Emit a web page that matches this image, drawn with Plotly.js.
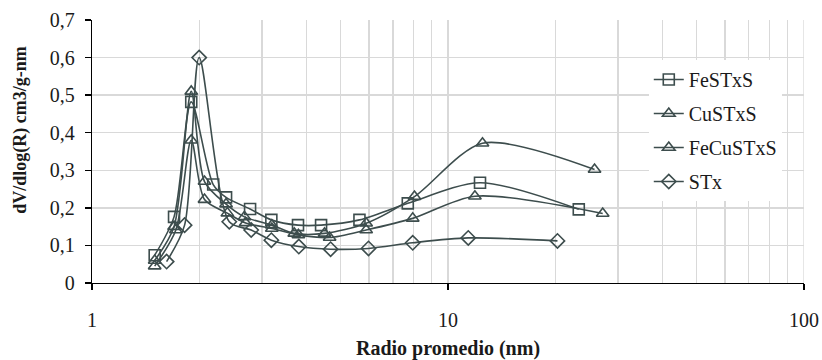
<!DOCTYPE html>
<html><head><meta charset="utf-8">
<script src="https://cdn.plot.ly/plotly-3.0.1.min.js"></script>
<style>html,body{margin:0;padding:0;background:#fff}#chart{width:822px;height:360px}</style>
</head><body><div id="chart"></div>
<script>
const seriesNames = ['FeSTxS', 'CuSTxS', 'FeCuSTxS', 'STx'];

const feSTxS_x = [1.5, 1.7, 1.9, 2.19, 2.38, 2.78, 3.19, 3.79, 4.40, 5.64, 7.71, 12.3, 23.3];
const feSTxS_y = [0.074, 0.176, 0.482, 0.262, 0.228, 0.197, 0.168, 0.154, 0.154, 0.168, 0.212, 0.267, 0.196];

const cuSTxS_x = [1.5, 1.7, 1.9, 2.07, 2.38, 2.68, 3.2, 3.7, 4.5, 5.89, 8.05, 12.5, 25.8];
const cuSTxS_y = [0.06, 0.15, 0.51, 0.27, 0.21, 0.176, 0.154, 0.132, 0.132, 0.159, 0.23, 0.372, 0.302];

const feCuSTxS_x = [1.5, 1.72, 1.9, 2.07, 2.4, 2.7, 3.2, 3.8, 4.65, 5.89, 7.96, 11.9, 27.2];
const feCuSTxS_y = [0.045, 0.141, 0.38, 0.222, 0.186, 0.16, 0.145, 0.128, 0.121, 0.141, 0.172, 0.231, 0.185];

const sTx_x = [1.62, 1.82, 2.0, 2.43, 2.8, 3.19, 3.81, 4.68, 5.98, 7.96, 11.4, 20.3];
const sTx_y = [0.057, 0.154, 0.60, 0.163, 0.141, 0.114, 0.097, 0.090, 0.092, 0.107, 0.120, 0.112];

const yTickVals = [0, 0.1, 0.2, 0.3, 0.4, 0.5, 0.6, 0.7];
const yTickText = ['0', '0,1', '0,2', '0,3', '0,4', '0,5', '0,6', '0,7'];
const xTickVals = [1, 10, 100];
const xTickText = ['1', '10', '100'];
const xTitle = 'Radio promedio (nm)';
const yTitle = 'dV/dlog(R) cm3/g-nm';

const col = '#3d4d4d';
const symbols = ['square-open', 'triangle-up-open', 'triangle-up-open', 'diamond-open'];
const xs = [feSTxS_x, cuSTxS_x, feCuSTxS_x, sTx_x];
const ys = [feSTxS_y, cuSTxS_y, feCuSTxS_y, sTx_y];

const traces = seriesNames.map((n, i) => ({
  type: 'scatter', mode: 'lines+markers', name: n,
  x: xs[i], y: ys[i], legendgroup: 'g' + i,
  line: {color: col, width: 1.6, shape: 'spline', smoothing: 0.8},
  marker: {symbol: symbols[i], size: 11, color: col, line: {color: col, width: 1.6}},
  cliponaxis: false
}));

const font = '"Liberation Serif", "Times New Roman", Times, serif';
const tcol = '#1a1a1a';
const layout = {
  width: 822, height: 360,
  margin: {l: 92, r: 18, t: 20, b: 77},
  paper_bgcolor: '#fff', plot_bgcolor: '#fff',
  font: {family: font, size: 20, color: tcol},
  showlegend: true,
  legend: {x: 0.782, y: 0.848, xanchor: 'left', yanchor: 'top', bgcolor: '#fff',
           font: {family: font, size: 20, color: tcol}, tracegroupgap: 5, traceorder: 'grouped'},
  xaxis: {
    type: 'log', range: [0, 2], tickmode: 'array', tickvals: xTickVals, ticktext: xTickText,
    showgrid: false, zeroline: false, showline: true, linecolor: '#000', linewidth: 1.3,
    ticks: 'outside', ticklen: 6, tickcolor: '#000', tickwidth: 1.3, ticklabelstandoff: 13,
    minor: {dtick: 'D1', showgrid: true, gridcolor: '#d9d9d9', gridwidth: 1.3, ticks: ''},
    tickfont: {family: font, size: 20, color: tcol},
    title: {text: '<b>' + xTitle + '</b>', font: {family: font, size: 20, color: tcol}, standoff: 10}
  },
  yaxis: {
    range: [0, 0.7], tickmode: 'array', tickvals: yTickVals, ticktext: yTickText,
    showgrid: true, gridcolor: '#d9d9d9', gridwidth: 1.3, zeroline: false,
    showline: true, linecolor: '#000', linewidth: 1.3,
    ticks: 'outside', ticklen: 6, tickcolor: '#000', tickwidth: 1.3, ticklabelstandoff: 6,
    tickfont: {family: font, size: 20, color: tcol}
  },
  annotations: [{text: '<b>' + yTitle + '</b>', xref: 'paper', yref: 'paper',
                 x: -0.1, y: 0.582, xanchor: 'center', yanchor: 'middle', textangle: -90,
                 showarrow: false, font: {family: font, size: 18, color: tcol}}],
  shapes: [{type: 'line', xref: 'x', yref: 'paper', x0: 100, x1: 100, y0: 0, y1: 1,
            line: {color: '#d9d9d9', width: 1.3}, layer: 'below'}]
};

Plotly.newPlot('chart', traces, layout, {staticPlot: true, displayModeBar: false});
</script>
</body></html>
